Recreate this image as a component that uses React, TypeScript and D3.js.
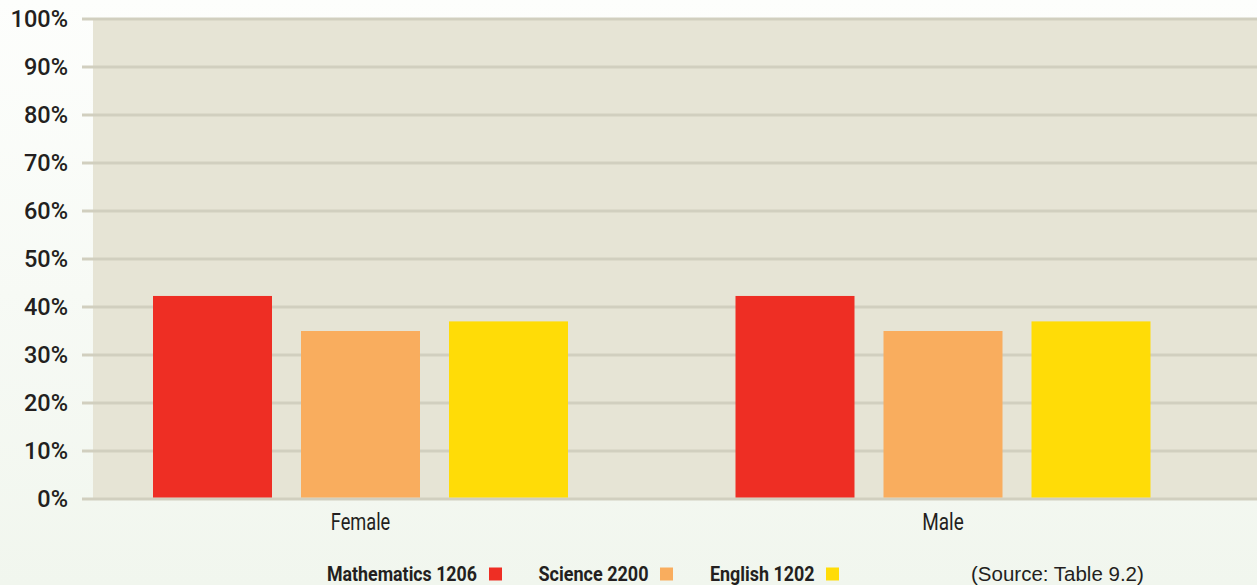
import * as d3 from "d3";

const groups = ["Female", "Male"];
const subjects = ["Mathematics 1206", "Science 2200", "English 1202"];
const femaleValues = [42.3, 35, 37];
const maleValues = [42.3, 35, 37];
const subjectColors = ["#ee2e24", "#f9ad5e", "#ffdc07"];
const sourceNote = "(Source: Table 9.2)";

const W = 1257;
const H = 585;
const ink = "#231f20";
const narrow = "Roboto, 'DejaVu Sans', sans-serif";

export default function App() {
  const valuesByGroup: Record<string, number[]> = { Female: femaleValues, Male: maleValues };

  const y = d3.scaleLinear().domain([0, 100]).range([499, 19]);
  const x0 = d3.scaleBand<string>().domain(groups).range([69.25, 1234.25]);
  const x1 = d3
    .scaleBand<string>()
    .domain(subjects)
    .range([83.75, 498.75])
    .paddingInner(0.196);
  const color = d3.scaleOrdinal<string, string>().domain(subjects).range(subjectColors);

  const plotLeft = 93;
  const gridLeft = 82;

  // the original type is a condensed grotesque, so squeeze text to its measured widths
  const groupLabelWidth: Record<string, number> = { Female: 59.5, Male: 41.5 };
  const legendText = [327, 538.5, 710];
  const legendWidth = [150, 110, 104.5];
  const legendSwatch = [489, 660, 826];

  return (
    <div style={{ position: "fixed", left: 0, top: 0 }}>
      <svg width={W} height={H} style={{ display: "block" }}>
        <defs>
          <linearGradient id="bg" x1="0" y1="0" x2="0" y2="1">
            <stop offset="0" stopColor="#fdfefc" />
            <stop offset="1" stopColor="#f1f6ee" />
          </linearGradient>
        </defs>
        <rect width={W} height={H} fill="url(#bg)" />
        <rect x={plotLeft} y={y(100)} width={W - plotLeft} height={y(0) - y(100)} fill="#e6e4d5" />

        {y.ticks(10).map((t) => (
          <g key={t}>
            <line x1={gridLeft} x2={W} y1={y(t)} y2={y(t)} stroke="#d1cfbf" strokeWidth={3} />
            <text
              x={68}
              y={y(t)}
              dy="0.36em"
              textAnchor="end"
              fontFamily="Roboto, sans-serif"
              fontWeight={500}
              fontSize={23.5}
              fill={ink}
            >
              {t}%
            </text>
          </g>
        ))}

        {groups.map((g) => (
          <g key={g} transform={`translate(${x0(g)},0)`}>
            {subjects.map((s, i) => {
              const v = valuesByGroup[g][i];
              return (
                <rect
                  key={s}
                  x={x1(s)}
                  y={y(v)}
                  width={x1.bandwidth()}
                  height={y(0) - 1.5 - y(v)}
                  fill={color(s)}
                />
              );
            })}
            <text
              x={x0.bandwidth() / 2}
              y={530}
              textAnchor="middle"
              fontFamily={narrow}
              fontSize={24}
              textLength={groupLabelWidth[g]}
              lengthAdjust="spacingAndGlyphs"
              fill={ink}
            >
              {g}
            </text>
          </g>
        ))}

        {subjects.map((s, i) => (
          <g key={s}>
            <text
              x={legendText[i]}
              y={581}
              fontFamily={narrow}
              fontWeight="bold"
              fontSize={20.5}
              textLength={legendWidth[i]}
              lengthAdjust="spacingAndGlyphs"
              fill={ink}
            >
              {s}
            </text>
            <rect x={legendSwatch[i]} y={567.5} width={13} height={13} fill={color(s)} />
          </g>
        ))}

        <text x={971} y={581} fontFamily="'Liberation Sans', Arial, sans-serif" fontSize={20.5} fill={ink}>
          {sourceNote}
        </text>
      </svg>
    </div>
  );
}
